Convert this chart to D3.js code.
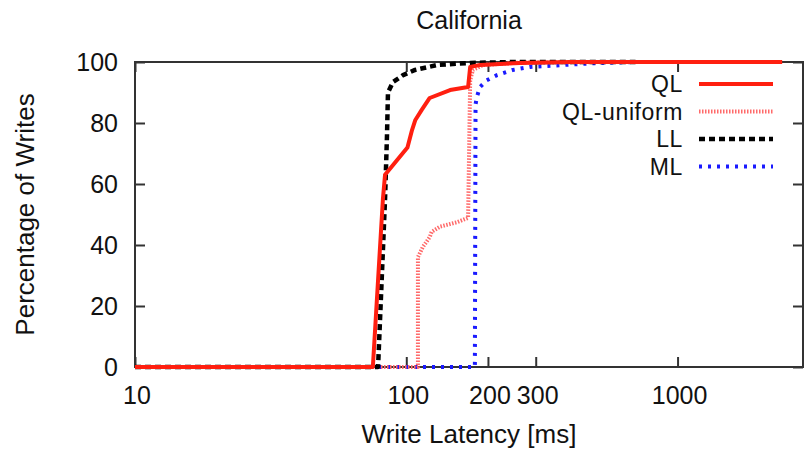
<!DOCTYPE html>
<html>
<head>
<meta charset="utf-8">
<script src="https://cdn.jsdelivr.net/npm/d3@7"></script>
<style>
  html, body { margin: 0; padding: 0; background: #fff; }
  svg { display: block; font-family: "Liberation Sans", Arial, Helvetica, sans-serif; }
</style>
</head>
<body>
<svg id="chart" width="804" height="451"></svg>
<script>
// ---- data (latency in ms, cumulative percentage of writes) ----
const seriesNames = ["QL", "QL-uniform", "LL", "ML"];
const qlLatency    = [10, 75.3, 82, 83.5, 90.8, 101, 105, 108, 114, 122, 145, 169, 172, 187, 262, 400, 2430];
const qlPercent    = [0, 0, 55, 63, 67, 72, 77.7, 81, 84.3, 88.2, 90.8, 91.8, 98.4, 99, 99.7, 100, 100];
const qluLatency   = [10, 110.4, 110.4, 115, 122, 124, 133, 154, 169, 172, 176, 192, 260, 600];
const qluPercent   = [0, 0, 36, 39.3, 42.6, 44.3, 46, 47.5, 48.9, 94, 97.4, 99, 99.8, 100];
const llLatency    = [10, 78.7, 83.5, 84.9, 85.6, 89.3, 97.3, 107.7, 129.7, 172, 250, 700];
const llPercent    = [0, 0, 55, 76, 90, 93.4, 95.7, 97.4, 99, 99.7, 100, 100];
const mlLatency    = [10, 179, 180, 182, 187, 198, 216, 247, 286, 517, 700];
const mlPercent    = [0, 0, 86, 88.5, 91.8, 94, 95.7, 97.4, 98.4, 99.7, 100];
const xTickValues  = [10, 100, 200, 300, 1000];
const yTickValues  = [0, 20, 40, 60, 80, 100];
const titleText    = "California";
const xLabelText   = "Write Latency [ms]";
const yLabelText   = "Percentage of Writes";

// ---- layout ----
const pLeft = 135, pRight = 803, pTop = 62, pBottom = 367;
const svg = d3.select("#chart");
const x = d3.scaleLog().domain([10, 2900]).range([pLeft, pRight]);
const y = d3.scaleLinear().domain([0, 100]).range([pBottom, pTop]);

const series = [
  { name: seriesNames[0], xs: qlLatency,  ys: qlPercent,  color: "#ff1f10", width: 4,   dash: null },
  { name: seriesNames[1], xs: qluLatency, ys: qluPercent, color: "#ff6a6a", width: 4,   dash: "1.5,1.5" },
  { name: seriesNames[2], xs: llLatency,  ys: llPercent,  color: "#000000", width: 4.5, dash: "6,4" },
  { name: seriesNames[3], xs: mlLatency,  ys: mlPercent,  color: "#1a1aff", width: 4,   dash: "3,6" }
];

const tickFont = 25;
const labelFont = 26;
const legendFont = 23;
const textColor = "#111";

// title
svg.append("text")
  .attr("x", (pLeft + pRight) / 2).attr("y", 29)
  .attr("text-anchor", "middle").attr("font-size", 25).attr("fill", textColor)
  .text(titleText);

// axes frame with inward ticks (gnuplot style, mirrored)
const axisColor = "#333";
const tickLen = 10;

const xAxisB = d3.axisBottom(x).tickValues(xTickValues).tickSize(-tickLen).tickFormat("");
const xAxisT = d3.axisTop(x).tickValues(xTickValues).tickSize(-tickLen).tickFormat("");
const yAxisL = d3.axisLeft(y).tickValues(yTickValues).tickSize(-tickLen).tickFormat("");
const yAxisR = d3.axisRight(y).tickValues(yTickValues).tickSize(-tickLen).tickFormat("");

function styleAxis(g) {
  g.select(".domain").remove();
  g.selectAll("line").attr("stroke", axisColor).attr("stroke-width", 2);
}
svg.append("g").attr("transform", `translate(0,${pBottom})`).call(xAxisB).call(styleAxis);
svg.append("g").attr("transform", `translate(0,${pTop})`).call(xAxisT).call(styleAxis);
svg.append("g").attr("transform", `translate(${pLeft},0)`).call(yAxisL).call(styleAxis);
svg.append("g").attr("transform", `translate(${pRight},0)`).call(yAxisR).call(styleAxis);

svg.append("rect")
  .attr("x", pLeft).attr("y", pTop)
  .attr("width", pRight - pLeft).attr("height", pBottom - pTop)
  .attr("fill", "none").attr("stroke", axisColor).attr("stroke-width", 2);

// tick labels
svg.append("g").selectAll("text").data(xTickValues).join("text")
  .attr("x", d => x(d) + 2).attr("y", 404)
  .attr("text-anchor", "middle").attr("font-size", tickFont).attr("fill", textColor)
  .text(d => d);
svg.append("g").selectAll("text").data(yTickValues).join("text")
  .attr("x", 118).attr("y", d => y(d)).attr("dy", "0.36em")
  .attr("text-anchor", "end").attr("font-size", tickFont).attr("fill", textColor)
  .text(d => d);

// axis labels
svg.append("text")
  .attr("x", (pLeft + pRight) / 2).attr("y", 443)
  .attr("text-anchor", "middle").attr("font-size", labelFont).attr("fill", textColor)
  .text(xLabelText);
svg.append("text")
  .attr("transform", `translate(34,${(pTop + pBottom) / 2}) rotate(-90)`)
  .attr("text-anchor", "middle").attr("font-size", labelFont).attr("fill", textColor)
  .text(yLabelText);

// lines
const line = d3.line().x(d => x(d[0])).y(d => y(d[1]));
const gLines = svg.append("g");
[3, 1, 2, 0].forEach(i => {
  const s = series[i];
  const pts = s.xs.map((v, k) => [v, s.ys[k]]);
  gLines.append("path")
    .datum(pts)
    .attr("d", line)
    .attr("fill", "none")
    .attr("stroke", s.color)
    .attr("stroke-width", s.width)
    .attr("stroke-dasharray", s.dash)
    .attr("stroke-linejoin", "round");
});

// legend
const legendRows = [84, 111.5, 139, 166.5];
const gLeg = svg.append("g");
series.forEach((s, i) => {
  gLeg.append("text")
    .attr("x", 683).attr("y", legendRows[i]).attr("dy", "0.36em")
    .attr("text-anchor", "end").attr("font-size", legendFont)
    .attr("letter-spacing", 0.6).attr("fill", textColor)
    .text(s.name);
  gLeg.append("line")
    .attr("x1", 699).attr("x2", 773)
    .attr("y1", legendRows[i]).attr("y2", legendRows[i])
    .attr("stroke", s.color).attr("stroke-width", s.width)
    .attr("stroke-dasharray", s.dash);
});
</script>
</body>
</html>
